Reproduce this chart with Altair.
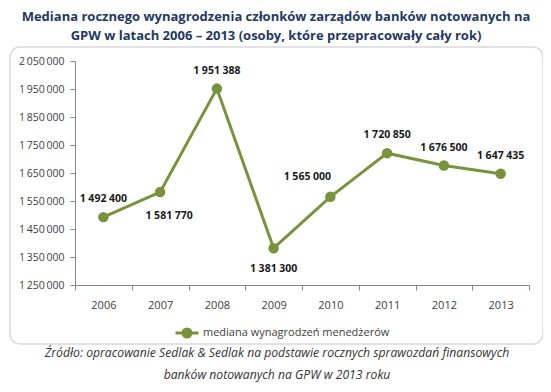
import altair as alt
import pandas as pd

years = ["2006", "2007", "2008", "2009", "2010", "2011", "2012", "2013"]
values = [1492400, 1581770, 1951388, 1381300, 1565000, 1720850, 1676500, 1647435]
series_name = "mediana wynagrodzeń menedżerów"
y_ticks = [1250000, 1350000, 1450000, 1550000, 1650000, 1750000, 1850000, 1950000, 2050000]
title_lines = ["Mediana rocznego wynagrodzenia członków zarządów banków notowanych na",
               "GPW w latach 2006 – 2013 (osoby, które przepracowały cały rok)"]
source_lines = ["Źródło: opracowanie Sedlak & Sedlak na podstawie rocznych sprawozdań finansowych",
                "banków notowanych na GPW w 2013 roku"]

# label placement groups (style only)
above_center = ["2006", "2008", "2011", "2012", "2013"]
above_left = ["2010"]
below_right = ["2007"]
below_center = ["2009"]

GREEN = "#77933C"
FONT = "Open Sans"

df = pd.DataFrame({
    "year": years,
    "value": values,
    "series": [series_name] * len(years),
    "label": [f"{v:,}".replace(",", " ") for v in values],
})

W, H = 454, 224

x_enc = alt.X("year:O", bandPosition=0.5,
              scale=alt.Scale(type="band", paddingInner=0, paddingOuter=0),
              axis=alt.Axis(title=None, labelAngle=0, tickBand="extent", ticks=True,
                            tickSize=5, tickColor="#868686", domainColor="#868686",
                            labelFontSize=11, labelColor="#404040", labelFont=FONT,
                            labelPadding=9, zindex=1))
y_enc = alt.Y("value:Q",
              scale=alt.Scale(domain=[1250000, 2050000], nice=False, zero=False),
              axis=alt.Axis(title=None, values=y_ticks, grid=False, tickSize=5,
                            tickColor="#868686", domainColor="#868686",
                            labelFontSize=10.5, labelColor="#404040", labelFont=FONT,
                            labelPadding=6, zindex=1,
                            labelExpr="replace(format(datum.value, ','), /,/g, '\u2009')"))

base = alt.Chart(df)

frame = alt.Chart(pd.DataFrame({"a": [0]})).mark_rect(
    fill="transparent", stroke="#d9d9d9", strokeWidth=1.5, cornerRadius=10
).encode(x=alt.value(-65), x2=alt.value(468), y=alt.value(-14), y2=alt.value(283))

line = base.mark_line(color=GREEN, strokeWidth=3).encode(x=x_enc, y=y_enc)

points = base.mark_point(filled=True, size=110, opacity=1).encode(
    x=x_enc, y=y_enc,
    color=alt.Color("series:N", scale=alt.Scale(range=[GREEN]),
                    legend=alt.Legend(title=None, orient="none", legendX=99, legendY=259,
                                      symbolType="M-1,0L1,0M-0.35,0A0.35,0.35,0,1,0,0.35,0A0.35,0.35,0,1,0,-0.35,0Z",
                                      symbolSize=529, symbolStrokeColor=GREEN,
                                      symbolStrokeWidth=3, symbolFillColor=GREEN,
                                      labelFontSize=11, labelColor="#404040",
                                      labelFont=FONT, labelOffset=3, labelLimit=0)),
)

def labels(sel, dx, dy):
    return base.transform_filter(
        alt.FieldOneOfPredicate(field="year", oneOf=sel)
    ).mark_text(fontWeight="bold", fontSize=10.5, font=FONT, color="#1a1a1a",
                dx=dx, dy=dy).encode(x=x_enc, y=y_enc, text="label:N")

source = alt.Chart(pd.DataFrame({"a": [0]})).mark_text(
    fontStyle="italic", fontSize=12.2, font=FONT, color="#333333", lineHeight=22,
    baseline="middle", align="center"
).encode(x=alt.value(202), y=alt.value(292), text=alt.value(source_lines))

chart = alt.layer(
    frame, line, points,
    labels(above_center, 0, -18),
    labels(above_left, -23, -20),
    labels(below_right, 9, 24),
    labels(below_center, 0, 21),
    source,
).properties(
    width=W, height=H,
    autosize=alt.AutoSizeParams(type="none"),
    padding={"left": 67, "top": 53, "right": 14, "bottom": 99},
    title=alt.TitleParams(title_lines, anchor="middle", dx=-26, fontSize=13,
                          font=FONT, fontWeight="bold", color="#1F3864",
                          lineHeight=19, offset=3),
).configure_view(stroke=None)

chart.save("out.html", embed_options={"renderer": "svg", "actions": False})
